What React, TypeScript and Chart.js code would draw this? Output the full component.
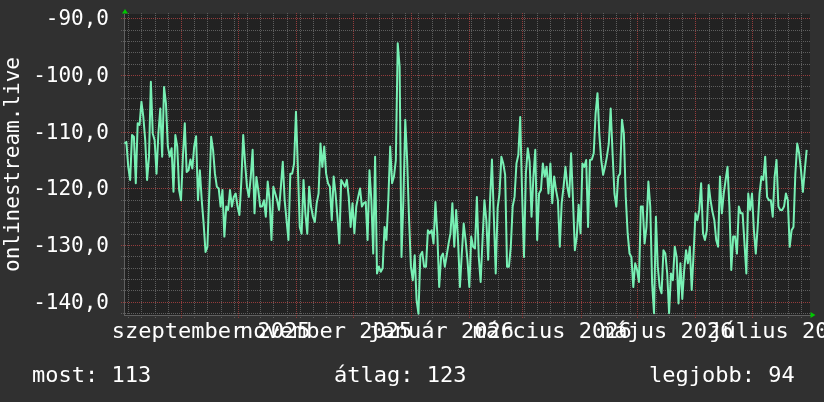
import { useEffect, useRef } from 'react';
import { Chart, registerables } from 'chart.js';

Chart.register(...registerables);

const FONT = "'DejaVu Sans Mono', 'Liberation Mono', monospace";
const TEXT = '#ffffff';
const OUTER_BG = '#303030';
const PLOT_BG = '#222222';
const MINOR = '#5e5e5e';
const MAJOR = '#943c3c';
const AXIS = '#606060';
const LINE = '#78f0b4';
const ARROW = '#00c800';
const NONE = 'rgba(0,0,0,0)';

const DAY = 86400000;
const axisStart = Date.UTC(2025, 7, 1); // day 0 of the x axis
const firstSampleDate = 2; // August series begins on the 2nd

// daily values, one array per month (Aug 2025 .. Jul 2026)
const aug = [-112.1, -111.8, -116.2, -118.5, -110.6, -110.9, -119.1, -108.5, -108.8, -104.7, -107.4, -111.5, -118.5, -114.4, -101.2, -110.3, -111.5, -117.4, -110.3, -105.9, -114.4, -102.1, -105.0, -112.6, -114.4, -112.9, -120.6, -110.6, -112.6, -120.3];
const sep = [-122.1, -114.4, -108.5, -117.1, -116.8, -114.9, -116.5, -112.6, -110.8, -122.1, -116.8, -122.1, -126.2, -131.2, -130.3, -120.9, -110.9, -113.2, -117.4, -119.7, -120.0, -123.2, -120.3, -128.5, -123.2, -123.8, -120.3, -123.2, -121.5, -120.9];
const okt = [-123.2, -124.7, -118.8, -110.6, -115.6, -119.7, -121.5, -118.0, -113.2, -124.4, -118.0, -120.3, -123.2, -123.2, -122.1, -125.0, -118.8, -122.1, -129.1, -119.7, -120.9, -122.1, -123.8, -119.7, -115.3, -122.1, -125.6, -129.1, -117.4, -117.4, -115.6];
const nov = [-106.5, -116.2, -126.8, -128.0, -118.5, -124.4, -128.0, -119.7, -123.2, -125.0, -125.9, -122.6, -120.9, -112.1, -116.2, -112.6, -117.4, -119.1, -119.7, -125.6, -117.9, -120.9, -125.0, -129.7, -118.5, -119.1, -119.7, -118.5, -121.5, -126.8];
const dec = [-122.6, -127.9, -123.2, -121.5, -120.0, -123.2, -122.6, -122.4, -129.1, -116.8, -122.1, -131.5, -114.4, -135.0, -133.8, -134.7, -134.1, -126.8, -129.1, -122.1, -112.6, -119.1, -117.9, -115.0, -94.4, -98.5, -132.1, -122.1, -107.9, -115.0, -125.3];
const jan = [-133.8, -136.2, -131.8, -139.7, -142.1, -131.8, -131.2, -133.8, -133.8, -127.4, -127.9, -127.4, -129.7, -122.4, -127.9, -137.4, -132.1, -131.5, -133.8, -131.8, -129.7, -127.9, -122.6, -130.3, -123.8, -129.1, -137.4, -131.5, -126.2, -129.1, -132.6];
const feb = [-137.4, -128.5, -130.3, -130.6, -121.5, -132.1, -136.5, -129.1, -122.1, -125.6, -132.6, -122.1, -114.9, -125.0, -135.0, -123.5, -120.9, -114.4, -115.6, -117.6, -133.8, -133.8, -130.3, -123.2, -121.5, -115.6, -114.1, -107.4];
const mar = [-120.9, -132.1, -117.4, -112.9, -115.3, -125.0, -117.9, -113.2, -129.1, -120.9, -120.3, -115.6, -117.9, -116.2, -120.9, -115.6, -122.6, -117.9, -120.3, -122.1, -130.3, -122.6, -119.7, -116.2, -119.7, -121.5, -113.8, -122.1, -130.9, -128.5, -122.9];
const apr = [-127.9, -115.6, -116.2, -115.0, -126.8, -115.0, -114.9, -113.8, -106.8, -103.2, -110.6, -115.0, -117.6, -116.2, -114.4, -112.1, -105.9, -113.8, -120.9, -123.2, -117.9, -117.4, -107.9, -110.3, -121.5, -127.9, -131.5, -132.1, -137.4, -133.2];
const maj = [-134.4, -136.5, -123.2, -123.2, -129.7, -126.8, -118.8, -123.2, -136.8, -142.0, -125.0, -133.8, -137.4, -138.5, -130.9, -131.5, -135.0, -142.0, -135.0, -136.2, -130.3, -132.1, -140.3, -133.2, -139.5, -134.4, -130.9, -133.2, -130.3, -137.9, -131.5];
const jun = [-124.4, -125.6, -123.8, -119.1, -127.9, -129.1, -127.4, -119.4, -122.1, -124.1, -125.6, -129.1, -130.3, -117.9, -124.4, -120.9, -118.5, -116.2, -123.2, -134.4, -128.5, -128.5, -131.5, -123.2, -124.4, -124.4, -129.7, -135.0, -120.9, -123.8];
const jul = [-120.9, -127.4, -131.5, -126.8, -120.9, -117.9, -118.5, -114.4, -121.5, -122.1, -122.1, -125.0, -117.9, -115.0, -123.2, -123.8, -123.8, -123.2, -120.9, -122.1, -130.3, -127.4, -126.8, -117.4, -112.1, -113.8, -116.8, -120.6, -116.8, -113.2];
const seriesMonths = [aug, sep, okt, nov, dec, jan, feb, mar, apr, maj, jun, jul];

const xLabelText = ['szeptember 2025', 'november 2025', 'január 2026', 'március 2026', 'május 2026', 'július 2026'];
const xLabelMonthIndex = [1, 3, 5, 7, 9, 11];
const LABEL_SHIFT_DAYS = 16;

const yLabelValues = [-140, -130, -120, -110, -100, -90];
const Y_MINOR_STEP = 2;

const legendTexts = ['most: 113', 'átlag: 123', 'legjobb: 94'];
const legendX = [32, 334, 649];
const axisTitle = 'onlinestream.live';

const X_MIN = 0.743;
const X_MAX = 364.77;
const Y_MIN = -142.33;
const Y_MAX = -89.24;

const monthStartDay = (k: number) => (Date.UTC(2025, 7 + k, 1) - axisStart) / DAY;

const points = seriesMonths.flatMap((vals, k) => {
  const start = monthStartDay(k) + (k === 0 ? firstSampleDate - 1 : 0);
  return vals.map((v, j) => ({ x: start + j, y: v }));
});

// grid positions (days)
const majorDays: number[] = [];
for (let k = 0; k <= 12; k++) {
  const d = monthStartDay(k);
  if (d >= X_MIN && d <= X_MAX) majorDays.push(d);
}
const minorDays: number[] = [];
const firstMonday = (8 - new Date(axisStart).getUTCDay()) % 7;
for (let d = firstMonday; d <= X_MAX; d += 7) {
  if (d >= X_MIN && !majorDays.includes(d)) minorDays.push(d);
}
const labelDays = xLabelMonthIndex.map((k) => monthStartDay(k) + LABEL_SHIFT_DAYS);

const yTicks: number[] = [];
for (let v = -142; v <= -90; v += Y_MINOR_STEP) yTicks.push(v);

const decor = {
  id: 'decor',
  beforeDraw(chart: any) {
    const { ctx, chartArea: a, width, height } = chart;
    ctx.save();
    ctx.fillStyle = OUTER_BG;
    ctx.fillRect(0, 0, width, height);
    ctx.fillStyle = PLOT_BG;
    ctx.fillRect(a.left, a.top, a.right - a.left, a.bottom - a.top);
    ctx.restore();
  },
  beforeDatasetsDraw(chart: any) {
    const { ctx, chartArea: a, scales } = chart;
    const xs = scales.x;
    const ys = scales.y;
    ctx.save();
    ctx.lineWidth = 1;
    ctx.setLineDash([1, 1]);
    const vline = (d: number, color: string) => {
      const px = Math.round(xs.getPixelForValue(d)) + 0.5;
      ctx.strokeStyle = color;
      ctx.beginPath();
      ctx.moveTo(px, a.top - 1);
      ctx.lineTo(px, a.bottom + 3);
      ctx.stroke();
    };
    const hline = (v: number, color: string) => {
      const py = Math.round(ys.getPixelForValue(v)) + 0.5;
      ctx.strokeStyle = color;
      ctx.beginPath();
      ctx.moveTo(a.left - 3, py);
      ctx.lineTo(a.right + 1, py);
      ctx.stroke();
    };
    yTicks.filter((v) => !yLabelValues.includes(v)).forEach((v) => hline(v, MINOR));
    minorDays.forEach((d) => vline(d, MINOR));
    yLabelValues.forEach((v) => hline(v, MAJOR));
    majorDays.forEach((d) => vline(d, MAJOR));
    ctx.restore();
  },
  afterDraw(chart: any) {
    const { ctx, chartArea: a } = chart;
    ctx.save();
    ctx.fillStyle = ARROW;
    ctx.beginPath();
    ctx.moveTo(a.left - 2, a.top - 0.5);
    ctx.lineTo(a.left + 4, a.top - 0.5);
    ctx.lineTo(a.left + 1, a.top - 5);
    ctx.closePath();
    ctx.fill();
    ctx.beginPath();
    ctx.moveTo(a.right + 0.5, a.bottom - 3);
    ctx.lineTo(a.right + 0.5, a.bottom + 3);
    ctx.lineTo(a.right + 5.5, a.bottom);
    ctx.closePath();
    ctx.fill();
    ctx.fillStyle = TEXT;
    ctx.font = `21px ${FONT}`;
    ctx.translate(13.5, (a.top + a.bottom) / 2);
    ctx.rotate(-Math.PI / 2);
    ctx.textAlign = 'center';
    ctx.textBaseline = 'middle';
    ctx.fillText(axisTitle, 0, 0);
    ctx.restore();
    ctx.save();
    ctx.fillStyle = TEXT;
    ctx.font = `22px ${FONT}`;
    ctx.textAlign = 'left';
    ctx.textBaseline = 'alphabetic';
    legendTexts.forEach((t, i) => ctx.fillText(t, legendX[i], 382));
    ctx.restore();
  },
};

export default function App() {
  const ref = useRef<HTMLCanvasElement | null>(null);
  useEffect(() => {
    document.body.style.margin = '0';
    document.body.style.background = OUTER_BG;
    const canvas = ref.current;
    if (!canvas) return;
    const chart = new Chart(canvas, {
      type: 'line',
      data: {
        datasets: [
          {
            data: points,
            borderColor: LINE,
            borderWidth: 2,
            pointRadius: 0,
            tension: 0,
            fill: false,
            borderJoinStyle: 'round',
          },
        ],
      },
      options: {
        animation: false,
        responsive: false,
        devicePixelRatio: 1,
        events: [],
        layout: { padding: { top: 14, right: 14, left: 0, bottom: 0 } },
        plugins: { legend: { display: false }, tooltip: { enabled: false }, title: { display: false } },
        scales: {
          x: {
            type: 'linear',
            min: X_MIN,
            max: X_MAX,
            afterBuildTicks: (scale: any) => {
              scale.ticks = labelDays.map((d) => ({ value: d }));
            },
            afterFit: (scale: any) => {
              scale.height = 87;
              scale.paddingLeft = 0;
              scale.paddingRight = 0;
            },
            ticks: {
              autoSkip: false,
              maxRotation: 0,
              minRotation: 0,
              padding: 1,
              color: TEXT,
              font: { family: FONT, size: 22 },
              callback: (_v: any, i: number) => xLabelText[i] ?? '',
            },
            grid: { color: NONE, tickColor: NONE, tickLength: 3, lineWidth: 1 },
            border: { display: true, color: AXIS },
          },
          y: {
            type: 'linear',
            min: Y_MIN,
            max: Y_MAX,
            afterBuildTicks: (scale: any) => {
              scale.ticks = yLabelValues.map((v) => ({ value: v }));
            },
            afterFit: (scale: any) => {
              scale.width = 124;
              scale.paddingTop = 0;
              scale.paddingBottom = 0;
            },
            ticks: {
              autoSkip: false,
              padding: 12,
              labelOffset: 1.5,
              color: TEXT,
              font: { family: FONT, size: 21 },
              callback: (v: any) => Number(v).toFixed(1).replace('.', ','),
            },
            grid: { color: NONE, tickColor: NONE, tickLength: 3, lineWidth: 1 },
            border: { display: true, color: AXIS },
          },
        },
      },
      plugins: [decor],
    } as any);
    return () => chart.destroy();
  }, []);
  return (
    <canvas
      ref={ref}
      width={824}
      height={402}
      style={{ display: 'block', width: '824px', height: '402px' }}
    />
  );
}
